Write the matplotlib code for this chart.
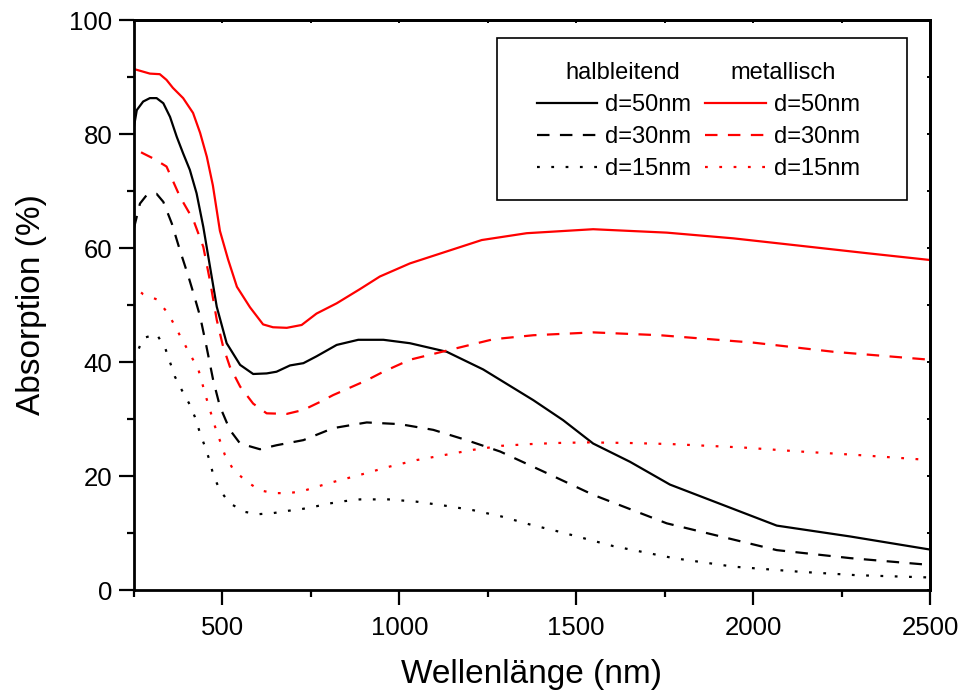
import matplotlib
matplotlib.use("Agg")
import matplotlib.pyplot as plt
from matplotlib.patches import Rectangle
from matplotlib.ticker import MultipleLocator, FixedLocator

plt.rcParams["font.family"] = ["Liberation Sans", "DejaVu Sans"]
plt.rcParams["lines.scale_dashes"] = False

# Absorption spectra of nanotube films, wavelength in nm, absorption in %
met50_nm = [250, 267, 295, 323, 342, 360, 389, 417, 437, 456, 473, 493, 516, 541, 578,
            615, 643, 682, 724, 766, 823, 889, 945, 1030, 1124, 1233, 1360, 1548, 1652,
            1756, 1944, 2133, 2321, 2500]
met50 = [91.4, 91.1, 90.6, 90.5, 89.5, 88.1, 86.3, 83.7, 80.2, 76.0, 71.0, 63.0, 58.0, 53.2, 49.6,
         46.6, 46.1, 46.0, 46.5, 48.5, 50.3, 52.8, 55.0, 57.3, 59.2, 61.4, 62.6, 63.3, 63.0,
         62.7, 61.7, 60.4, 59.1, 57.9]

semi50_nm = [250, 258, 276, 295, 314, 333, 352, 371, 389, 408, 427, 446, 465, 484, 512, 550,
             587, 625, 653, 691, 729, 766, 823, 884, 955, 1030, 1134, 1237, 1379, 1463, 1548,
             1652, 1765, 2067, 2274, 2500]
semi50 = [81.3, 84.2, 85.7, 86.3, 86.3, 85.4, 83.0, 79.5, 76.6, 73.7, 69.6, 63.7, 56.7, 49.7, 43.3, 39.5,
          37.9, 38.0, 38.3, 39.4, 39.8, 41.0, 43.0, 43.9, 43.9, 43.3, 41.8, 38.7, 33.3, 29.8, 25.7,
          22.5, 18.5, 11.3, 9.4, 7.1]

met30_nm = [270, 276, 305, 342, 380, 418, 446, 465, 484, 502, 521, 550, 587, 625, 682, 729,
            776, 813, 908, 955, 1030, 1134, 1266, 1379, 1548, 1737, 2001, 2227, 2500]
met30 = [76.8, 76.6, 75.7, 74.3, 69.0, 64.9, 60.2, 54.2, 47.4, 42.7, 39.2, 35.7, 32.7, 31.0, 30.9, 31.6,
         33.0, 34.2, 36.8, 38.3, 40.4, 42.0, 44.0, 44.7, 45.2, 44.7, 43.4, 41.8, 40.4]

semi30_nm = [250, 267, 286, 314, 333, 357, 380, 404, 418, 437, 455, 474, 493, 521, 550, 606,
             653, 729, 813, 908, 1002, 1096, 1190, 1285, 1407, 1548, 1756, 2067, 2274, 2500]
semi30 = [63.5, 67.8, 69.3, 69.5, 68.1, 64.3, 59.6, 55.0, 52.1, 48.0, 42.7, 36.8, 32.2, 28.1, 25.7, 24.7,
          25.4, 26.3, 28.4, 29.4, 29.1, 28.1, 26.3, 24.3, 20.8, 16.7, 11.7, 7.0, 5.6, 4.4]

met15_nm = [270, 276, 314, 347, 389, 432, 455, 479, 507, 531, 569, 606, 644, 686, 724, 766,
            804, 889, 969, 1049, 1129, 1209, 1289, 1369, 1449, 1530, 1647, 1770, 1972, 2133,
            2293, 2500]
met15 = [52.2, 51.9, 51.0, 48.5, 43.6, 38.7, 33.6, 28.7, 23.7, 21.1, 19.0, 17.5, 17.0, 17.0, 17.3, 18.1,
         18.8, 20.2, 21.6, 22.8, 23.7, 24.6, 25.3, 25.6, 25.8, 25.9, 25.8, 25.6, 25.0, 24.3,
         23.7, 22.8]

semi15_nm = [250, 258, 276, 314, 338, 366, 385, 408, 422, 437, 451, 465, 474, 493, 521, 564,
             601, 644, 686, 724, 766, 804, 846, 889, 969, 1049, 1129, 1209, 1289, 1369, 1454,
             1605, 1775, 1944, 2133, 2293, 2500]
semi15 = [40.0, 41.5, 44.2, 44.9, 42.5, 37.4, 35.1, 32.5, 30.4, 27.5, 25.1, 22.5, 20.2, 17.5, 15.2, 13.7,
          13.3, 13.5, 13.9, 14.2, 14.7, 15.2, 15.6, 15.9, 15.9, 15.5, 14.8, 14.0, 12.9, 11.5, 10.2,
          7.7, 5.6, 4.1, 3.2, 2.6, 2.2]

thickness_labels = ["d=50nm", "d=30nm", "d=15nm"]
group_titles = ["halbleitend", "metallisch"]

solid = "-"
dashed = (0, (9, 7.5))
dotted = (0, (2.0, 8.3))
lw = 1.6

fig = plt.figure(figsize=(9.61, 6.93), dpi=100)
ax = fig.add_axes([0.1394, 0.1486, 0.8283, 0.8225])

h_semi = [
    ax.plot(semi50_nm, semi50, color="black", lw=lw, ls=solid)[0],
    ax.plot(semi30_nm, semi30, color="black", lw=lw, ls=dashed)[0],
    ax.plot(semi15_nm, semi15, color="black", lw=lw, ls=dotted)[0],
]
h_met = [
    ax.plot(met50_nm, met50, color="#ff0000", lw=lw, ls=solid)[0],
    ax.plot(met30_nm, met30, color="#ff0000", lw=lw, ls=dashed)[0],
    ax.plot(met15_nm, met15, color="#ff0000", lw=lw, ls=dotted)[0],
]

ax.set_xlim(250, 2500)
ax.set_ylim(0, 100)
ax.xaxis.set_major_locator(FixedLocator([500, 1000, 1500, 2000, 2500]))
ax.xaxis.set_minor_locator(FixedLocator([250, 750, 1250, 1750, 2250]))
ax.yaxis.set_major_locator(MultipleLocator(20))
ax.yaxis.set_minor_locator(MultipleLocator(10))

for sp in ax.spines.values():
    sp.set_linewidth(2.0)

ax.tick_params(which="major", direction="out", length=10.5, width=1.6, labelsize=18.5, pad=5)
ax.tick_params(which="minor", direction="out", length=5, width=1.6)
ax.tick_params(axis="x", which="major", pad=8)

# inward ticks on the top and right frame
top = ax.secondary_xaxis("top")
top.xaxis.set_major_locator(FixedLocator([500, 1000, 1500, 2000, 2500]))
top.xaxis.set_minor_locator(FixedLocator([250, 750, 1250, 1750, 2250]))
top.tick_params(which="both", direction="in", length=2.5, width=1.4, labeltop=False)
top.spines["top"].set_linewidth(2.0)
right = ax.secondary_yaxis("right")
right.yaxis.set_major_locator(MultipleLocator(20))
right.yaxis.set_minor_locator(MultipleLocator(10))
right.tick_params(which="both", direction="in", length=2.5, width=1.4, labelright=False)
right.spines["right"].set_linewidth(2.0)

ax.set_xlabel("Wellenlänge (nm)", fontsize=24, labelpad=14)
ax.set_ylabel("Absorption (%)", fontsize=24, labelpad=16)

# legend frame with two column headings
ax.add_patch(Rectangle((0.456, 0.684), 0.515, 0.284, transform=ax.transAxes,
                       facecolor="white", edgecolor="black", linewidth=1.2, zorder=4))
leg = ax.legend(h_semi + h_met, thickness_labels + thickness_labels, ncol=2,
                loc="center left", bbox_to_anchor=(0.506, 0.795), borderaxespad=0,
                fontsize=17, frameon=False, handlelength=2.55, handletextpad=0.35,
                columnspacing=0.6, labelspacing=0.42, borderpad=0)
leg.set_zorder(5)

ax.text(0.614, 0.907, group_titles[0], transform=ax.transAxes, fontsize=17,
        ha="center", va="center", zorder=6)
ax.text(0.816, 0.907, group_titles[1], transform=ax.transAxes, fontsize=17,
        ha="center", va="center", zorder=6)

fig.savefig("out.png", dpi=100)
